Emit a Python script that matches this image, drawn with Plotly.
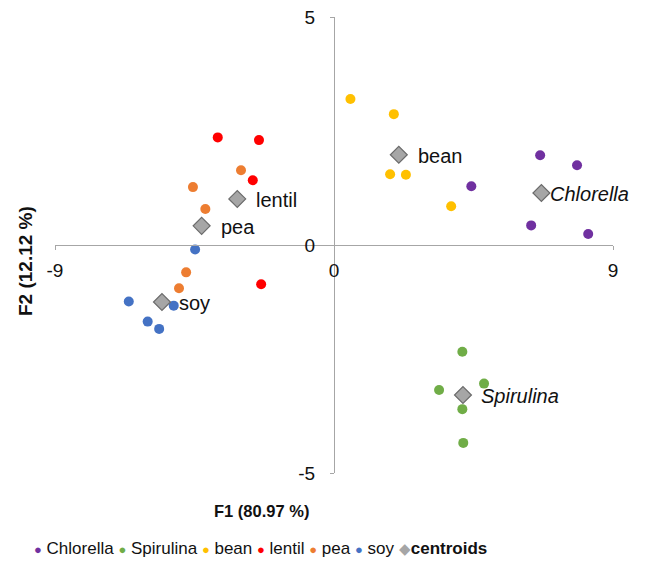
import plotly.graph_objects as go

# ---- data ----
groups = ["Chlorella", "Spirulina", "bean", "lentil", "pea", "soy"]
colors = ["#7030A0", "#70AD47", "#FFC000", "#FF0000", "#ED7D31", "#4472C4"]

chlorella_x = [6.65, 7.84, 4.43, 6.36, 8.20]
chlorella_y = [1.97, 1.75, 1.29, 0.43, 0.24]
spirulina_x = [4.14, 3.39, 4.84, 4.14, 4.17]
spirulina_y = [-2.34, -3.18, -3.04, -3.60, -4.34]
bean_x = [0.53, 1.93, 1.81, 2.32, 3.78]
bean_y = [3.20, 2.87, 1.55, 1.54, 0.85]
lentil_x = [-3.75, -2.42, -2.62, -2.35]
lentil_y = [2.36, 2.30, 1.42, -0.86]
pea_x = [-3.00, -4.55, -4.15, -4.77, -5.00]
pea_y = [1.64, 1.27, 0.79, -0.60, -0.95]
soy_x = [-4.48, -6.62, -5.17, -6.01, -5.64]
soy_y = [-0.10, -1.24, -1.33, -1.68, -1.84]

centroid_x = [6.69, 4.16, 2.09, -3.12, -4.27, -5.55]
centroid_y = [1.14, -3.29, 1.98, 1.01, 0.42, -1.25]
centroid_labels = ["<i>Chlorella</i>", "<i>Spirulina</i>", "bean", "lentil", "pea", "soy"]
label_shift = [7, 16, 17, 17, 17, 15]

x_ticks = [-9, 0, 9]
y_ticks = [-5, 0, 5]
x_title = "F1 (80.97 %)"
y_title = "F2 (12.12 %)"

series_x = [chlorella_x, spirulina_x, bean_x, lentil_x, pea_x, soy_x]
series_y = [chlorella_y, spirulina_y, bean_y, lentil_y, pea_y, soy_y]

FONT = "Liberation Sans, Arial, sans-serif"
AXIS_COLOR = "#A6A6A6"
TEXT_COLOR = "#111111"

fig = go.Figure()
for name, col, xs, ys in zip(groups, colors, series_x, series_y):
    fig.add_trace(go.Scatter(
        x=xs, y=ys, mode="markers", name=name,
        marker=dict(symbol="circle", size=10, color=col, line=dict(width=0)),
        showlegend=False,
    ))

fig.add_trace(go.Scatter(
    x=centroid_x, y=centroid_y, mode="markers", name="centroids",
    marker=dict(symbol="diamond", size=13, color="#A6A6A6",
                line=dict(width=1.2, color="#6B6B6B")),
    showlegend=False,
))

for cx, cy, lab, sh in zip(centroid_x, centroid_y, centroid_labels, label_shift):
    fig.add_annotation(x=cx, y=cy, xref="x", yref="y", text=lab, showarrow=False,
                       xanchor="left", yanchor="middle", xshift=sh, yshift=-1,
                       font=dict(family=FONT, size=20, color=TEXT_COLOR))

# plot area in page pixels: left 55, right 613, top 17, bottom 473
PL, PW, PB, PH = 55.0, 558.0, 473.0, 456.0

def px(xp):
    return (xp - PL) / PW

def py(yp):
    return (PB - yp) / PH

# axis titles
fig.add_annotation(x=px(261), y=py(511), xref="paper", yref="paper",
                   text="<b>" + x_title + "</b>", showarrow=False,
                   xanchor="center", yanchor="middle",
                   font=dict(family=FONT, size=16.5, color=TEXT_COLOR))
fig.add_annotation(x=px(25), y=py(261), xref="paper", yref="paper",
                   text="<b>" + y_title + "</b>", showarrow=False, textangle=-90,
                   xanchor="center", yanchor="middle",
                   font=dict(family=FONT, size=19, color=TEXT_COLOR))

# legend (text row)
parts = []
for name, col in zip(groups, colors):
    parts.append("<span style='color:%s;font-size:13px'>\u25CF</span> %s" % (col, name))
parts.append("<span style='color:#A6A6A6;font-size:15px'>\u25C6</span><b>centroids</b>")
fig.add_annotation(x=px(260), y=py(548), xref="paper", yref="paper",
                   text=" ".join(parts), showarrow=False,
                   xanchor="center", yanchor="middle",
                   font=dict(family=FONT, size=17, color=TEXT_COLOR))

axis_common = dict(showgrid=False, zeroline=False, anchor="free", position=0.5,
                   automargin=False,
                   tickcolor=AXIS_COLOR, tickwidth=1.3, ticklen=4)

fig.update_layout(
    width=646, height=566,
    margin=dict(l=55, r=33, t=17, b=93, autoexpand=False),
    plot_bgcolor="white", paper_bgcolor="white",
    showlegend=False,
    xaxis=dict(range=[-9, 9], tickvals=x_ticks, ticktext=[str(v) for v in x_ticks],
               showline=True, linecolor=AXIS_COLOR, linewidth=1.3, ticks="outside",
               ticklabelstandoff=4,
               tickfont=dict(family=FONT, size=19, color=TEXT_COLOR), **axis_common),
    yaxis=dict(range=[-5, 5], tickvals=y_ticks, ticktext=[str(v) for v in y_ticks],
               showline=True, linecolor=AXIS_COLOR, linewidth=1.3, ticks="outside",
               ticklabelstandoff=11,
               tickfont=dict(family=FONT, size=19, color=TEXT_COLOR), **axis_common),
    xaxis2=dict(range=[-9, 9], overlaying="x", tickvals=[-9, 9], ticks="inside",
                showticklabels=False, showline=False, **axis_common),
    yaxis2=dict(range=[-5, 5], overlaying="y", tickvals=[-5, 5], ticks="inside",
                showticklabels=False, showline=False, **axis_common),
)

# remove the browser's default 8px page margin so the figure sits at (0, 0)
fig.write_html("out.html", config={"displayModeBar": False},
               post_script="document.body.style.margin='0';")
